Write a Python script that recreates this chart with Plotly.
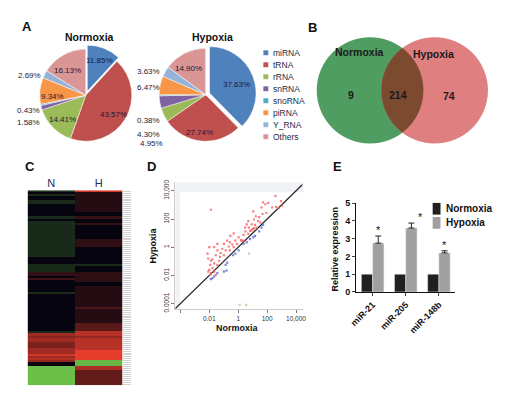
import numpy as np
import plotly.graph_objects as go

W, H = 513, 399
def X(p): return p / W
def Y(p): return 1 - p / H

FONT = "Arial, Liberation Sans, sans-serif"

# ---------------- Panel A: pie data ----------------
rna_types = ["miRNA", "tRNA", "rRNA", "snRNA", "snoRNA", "piRNA", "Y_RNA", "Others"]
rna_colors = ["#4F81BD", "#C0504D", "#9BBB59", "#8064A2", "#4BACC6", "#F79646", "#95B3D7", "#D99694"]
normoxia_pct = [11.85, 43.57, 14.41, 1.58, 0.43, 9.34, 2.69, 16.13]
hypoxia_pct = [37.63, 27.74, 4.95, 4.30, 0.38, 6.47, 3.63, 14.90]

# ---------------- Panel B: venn counts ----------------
venn_labels = ["Normoxia", "Hypoxia"]
venn_counts = [9, 214, 74]   # only normoxia, shared, only hypoxia

# ---------------- Panel C: heatmap ----------------
heat_cols = ["N", "H"]
heat_N = [
    -0.25, 0, -0.2, 0, 0, -0.2, -0.2, 0, 0, 0,
    0, 0, 0, -0.2, -0.2, 0, -0.2, -0.2, -0.2, -0.2,
    -0.2, -0.2, -0.2, -0.2, -0.2, -0.2, -0.2, -0.2, -0.2, -0.2,
    -0.2, -0.2, -0.2, -0.2, 0, 0, 0, 0, -0.2, -0.2,
    -0.2, -0.2, 0.2, 0.2, 0, 0.25, 0, 0, 0, 0,
    0, 0, -0.2, 0, 0, 0, 0, 0, 0, 0,
    0, 0, 0, 0, 0, 0, 0, 0, 0, 0,
    0, 0, -0.2, 0.65, 0.65, 0.55, 0.65, 0.65, 0.5, 0.5,
    0.5, 0.65, 0.65, 0.65, 0.85, 0.65, 0.75, 0.6, 0, 0,
    -1, -1, -1, -1, -1, -1, -1, -1, -1, -1,
]
heat_H = [
    0.85, 0.13, 0.13, 0.13, 0.13, 0.13, 0.13, 0.13, 0.13, 0.13,
    0.13, 0, 0, 0.2, 0.2, 0, 0, 0.2, 0, 0,
    0, 0, 0, 0, 0, 0.18, 0.18, 0.18, 0.18, 0,
    0, 0, 0, 0, 0, 0, 0, 0, -0.2, 0,
    0, 0, 0.16, 0.16, 0.16, 0.16, 0.16, 0, 0, 0.13,
    0.13, 0.13, 0.13, 0.13, 0.13, 0.13, 0.13, 0.13, 0.13, 0.13,
    0.3, 0.13, 0.13, 0.13, 0.13, 0.13, 0.13, 0.13, 0.35, 0.35,
    0.35, 0.35, 0.75, 0.75, 0.75, 0.6, 0.75, 0.75, 0.75, 0.75,
    0.75, 0.75, 0.95, 0.95, 0.95, 0.95, 0.95, -0.95, -0.95, -0.95,
    0.7, 0.7, 0.4, 0.4, 0.4, 0.4, 0.4, 0.4, 0.4, 0.4,
]

# ---------------- Panel D: scatter (log10 values) ----------------
red_log_norm = [-1.89, 2.58, 2.96, 1.72, 1.88, 2.08, 2.35, 2.62, 2.80, 3.03, 1.61, 1.22, 1.09, 1.38,
                0.93, 1.16, 1.54, 0.59, 0.73, 1.00, 1.27, 0.82, 0.50, 1.09, 0.37, 0.70, 0.93, -0.31,
                0.03, 0.19, -0.20, -0.54, -0.58, -0.08, -0.40, -0.76, 0.37, 0.25, -0.31, -0.65, -0.99,
                -1.10, -0.87, -1.21, -0.58, -1.44, -1.55, -1.26, -0.99, -1.66, -2.00, -1.44, -1.78,
                -1.89, -2.07, -1.94, -1.66, -1.78, -1.44, -2.00, -1.89, -1.66, -1.55, -2.12, -1.33,
                -1.94, -2.07, 0.70, 0.48, 1.45, 1.68, 1.95, 1.04]
red_log_hyp = [2.66, 3.65, 3.28, 3.19, 3.05, 3.15, 2.82, 2.87, 2.78, 2.96, 2.82, 2.20, 1.97, 1.85,
               1.62, 1.58, 1.74, 1.62, 1.39, 1.28, 1.39, 1.16, 1.12, 1.35, 0.88, 0.95, 1.20, 0.98,
               0.70, 0.51, 0.47, 0.81, 0.35, 0.24, 0.19, 0.47, 0.47, 0.45, 0.01, 0.05, 0.24,
               -0.11, -0.22, -0.41, -0.22, -0.22, -0.57, -0.69, -0.57, 0.01, 0.01, 0.24, -0.87,
               -0.96, -0.80, -1.26, -1.15, -1.49, -1.26, -1.61, -1.84, -1.73, -1.96, -0.45, -0.96,
               -1.96, -1.73, 1.85, 1.39, 2.13, 2.36, 2.43, 2.55]
blue_log_norm = [1.61, 1.45, 1.04, 0.82, 0.59, 0.37, 0.03, -0.20, -0.36, -0.76, -0.87, -0.99, -0.81,
                 -1.66, -1.78, -1.44, -1.89, 1.16, 1.72]
blue_log_hyp = [1.39, 1.12, 0.70, 0.58, 0.35, 0.24, -0.22, -0.45, -0.57, -1.10, -1.26, -1.73, -1.66,
                -2.07, -2.19, -1.84, -2.26, 0.81, 1.58]
green_log_norm = [0.75, 0.10, 0.55]
green_log_hyp = [-0.45, -4.10, -4.10]
diag_log = [-4.35, 4.45]

# ---------------- Panel E: bars ----------------
mirnas = ["miR-21", "miR-205", "miR-148b"]
rel_normoxia = [1, 1, 1]
rel_hypoxia = [2.75, 3.6, 2.2]
rel_hypoxia_err = [0.4, 0.28, 0.12]

fig = go.Figure()

# ---- pies ----
pie_common = dict(labels=rna_types, sort=False, direction="clockwise", rotation=0,
                  textinfo="none", hoverinfo="label+percent",
                  marker=dict(colors=rna_colors, line=dict(color="white", width=0.5)),
                  pull=[0.09, 0, 0, 0, 0, 0, 0, 0], showlegend=False)
fig.add_trace(go.Pie(values=normoxia_pct, domain=dict(x=[X(29), X(132)], y=[Y(144), Y(41)]),
                     name="Normoxia", **pie_common))
fig.add_trace(go.Pie(values=hypoxia_pct, domain=dict(x=[X(151), X(255)], y=[Y(144), Y(40)]),
                     name="Hypoxia", **pie_common))

# ---- heatmap ----
zmat = [[n, h] for n, h in zip(heat_N, heat_H)]
fig.add_trace(go.Heatmap(z=zmat, x=heat_cols, y=list(range(len(heat_N))), zmin=-1, zmax=1,
                         colorscale=[[0, "#6cc04a"], [0.5, "#06040e"], [1, "#f2402e"]],
                         showscale=False, xaxis="x", yaxis="y"))

# ---- scatter ----
def p10(a): return [10 ** v for v in a]
fig.add_trace(go.Scatter(x=p10(diag_log), y=p10(diag_log), mode="lines",
                         line=dict(color="#222222", width=1.2), xaxis="x2", yaxis="y2"))
fig.add_trace(go.Scatter(x=p10(red_log_norm), y=p10(red_log_hyp), mode="markers",
                         marker=dict(color="rgba(245,95,95,0.8)", size=2.2, symbol="square"),
                         xaxis="x2", yaxis="y2"))
fig.add_trace(go.Scatter(x=p10(blue_log_norm), y=p10(blue_log_hyp), mode="markers",
                         marker=dict(color="rgba(90,105,205,0.8)", size=2.2, symbol="square"),
                         xaxis="x2", yaxis="y2"))
fig.add_trace(go.Scatter(x=p10(green_log_norm), y=p10(green_log_hyp), mode="markers",
                         marker=dict(color="rgba(160,205,130,0.7)", size=2.2, symbol="square"),
                         xaxis="x2", yaxis="y2"))

# ---- bars ----
fig.add_trace(go.Bar(x=mirnas, y=rel_normoxia, name="Normoxia", marker=dict(color="#231f20"),
                     xaxis="x3", yaxis="y3"))
fig.add_trace(go.Bar(x=mirnas, y=rel_hypoxia, name="Hypoxia", marker=dict(color="#a0a0a0"),
                     error_y=dict(type="data", symmetric=False, array=rel_hypoxia_err,
                                  arrayminus=[0, 0, 0], color="#222", thickness=1, width=3),
                     xaxis="x3", yaxis="y3"))

# ---- axes ----
fig.update_layout(
    xaxis=dict(domain=[X(21), X(118)], anchor="y", side="top", ticks="", showgrid=False,
               zeroline=False, tickfont=dict(size=11, color="#1f2f5f"), fixedrange=True),
    yaxis=dict(domain=[Y(390), Y(190)], anchor="x", range=[len(heat_N) - 0.5, -0.5], side="right",
               ticks="outside", ticklen=8, tickcolor="#d2d2d2", tickwidth=1,
               tickvals=list(range(len(heat_N))), showticklabels=False, showgrid=False, zeroline=False),
    xaxis2=dict(domain=[X(172), X(302)], anchor="y2", type="log", range=[-4.35, 4.45],
                tickvals=[1e-4, 1e-2, 1, 100, 1e4], ticktext=["", "0.01", "1", "100", "10,000"],
                ticks="outside", ticklen=3, tickcolor="#777", tickfont=dict(size=6.5, color="#333"),
                showgrid=False, zeroline=False, showline=True, linecolor="#cccccc", linewidth=1),
    yaxis2=dict(domain=[Y(312), Y(182)], anchor="x2", type="log", range=[-4.4, 4.6],
                tickvals=[1e-4, 1e-2, 1, 100, 1e4], ticktext=["0.0001", "0.01", "1", "100", "10,000"],
                tickangle=-90, ticks="outside", ticklen=3, tickcolor="#777",
                tickfont=dict(size=6.5, color="#333"),
                showgrid=False, zeroline=False, showline=True, linecolor="#cccccc", linewidth=1),
    xaxis3=dict(domain=[X(356.7), X(458.3)], anchor="y3", showline=True, linecolor="#111", linewidth=1,
                ticks="outside", ticklen=3, tickangle=-45,
                tickfont=dict(size=9, weight="bold", color="#111"), showgrid=False, zeroline=False),
    yaxis3=dict(domain=[Y(294.3), Y(203.3)], anchor="x3", range=[0, 5], dtick=1, showline=True,
                linecolor="#111", linewidth=1, ticks="outside", ticklen=3,
                tickfont=dict(size=9, weight="bold", color="#111"), showgrid=False, zeroline=False),
    barmode="group", bargap=0.32, bargroupgap=0,
)

shapes = []
annotations = []

def ann(text, px, py, size=9, bold=False, color="#111", xanchor="center", yanchor="middle", angle=0):
    annotations.append(dict(text=text, x=X(px), y=Y(py), xref="paper", yref="paper", showarrow=False,
                            xanchor=xanchor, yanchor=yanchor, textangle=angle,
                            font=dict(size=size, color=color, family=FONT,
                                      weight="bold" if bold else "normal")))

# panel letters
for letter, px, py in [("A", 20, 22), ("B", 312, 23), ("C", 23, 166), ("D", 148, 166), ("E", 338, 166)]:
    ann(letter, px, py, size=13, bold=True, color="#111")

# pie titles
ann("Normoxia", 84, 33, size=10.5, bold=True)
ann("Hypoxia", 210, 33, size=10.5, bold=True)

# pie labels (values from the data arrays)
lab_col = "#1a1a3a"
norm_pos = [(95, 57), (109, 112), (57, 117), (22, 121), (22, 108), (47, 94), (23, 72), (62, 67)]
hyp_pos = [(235, 82), (197, 131), (148, 142), (145, 133), (145, 118), (145, 85), (145, 68), (185, 65)]
for v, (px, py) in zip(normoxia_pct, norm_pos):
    ann(f"{v:.2f}%", px, py, size=8, color=lab_col)
for v, (px, py) in zip(hypoxia_pct, hyp_pos):
    ann(f"{v:.2f}%", px, py, size=8, color=lab_col)

# pie legend
for i, (name, col) in enumerate(zip(rna_types, rna_colors)):
    cy = 49 + i * 12.3
    shapes.append(dict(type="rect", xref="paper", yref="paper", x0=X(262), x1=X(267),
                       y0=Y(cy + 2.5), y1=Y(cy - 2.5), fillcolor=col, line=dict(width=0)))
    ann(name, 270, cy, size=8.5, color="#1b2a4a", xanchor="left")

# venn
r = 54.5
c1 = (371, 87.5)
c2 = (437, 87.5)
def circle_shape(c, col):
    return dict(type="circle", xref="paper", yref="paper", x0=X(c[0] - r), x1=X(c[0] + r),
                y0=Y(c[1] + r), y1=Y(c[1] - r), fillcolor=col, line=dict(width=0), layer="below")
shapes.append(circle_shape(c1, "#4f9d60"))
shapes.append(circle_shape(c2, "#e07f7f"))
half = (c2[0] - c1[0]) / 2
th = np.arccos(half / r)
a1 = np.linspace(-th, th, 40)
a2 = np.linspace(np.pi - th, np.pi + th, 40)
pts = [(c1[0] + r * np.cos(a), c1[1] + r * np.sin(a)) for a in a1]
pts += [(c2[0] + r * np.cos(a), c2[1] + r * np.sin(a)) for a in a2]
path = "M " + " L ".join(f"{X(px):.5f},{Y(py):.5f}" for px, py in pts) + " Z"
shapes.append(dict(type="path", xref="paper", yref="paper", path=path, fillcolor="#7c4a2f",
                   line=dict(width=0), layer="below"))
ann(venn_labels[0], 360, 48, size=10.5, bold=True, color="#1a1a1a")
ann(venn_labels[1], 436, 50, size=10.5, bold=True, color="#1a1a1a")
ann(str(venn_counts[0]), 352, 92, size=10.5, bold=True, color="#1a1a1a")
ann(str(venn_counts[1]), 400, 92, size=10.5, bold=True, color="#1a1a1a")
ann(str(venn_counts[2]), 452, 93, size=10.5, bold=True, color="#1a1a1a")

# scatter panel background
shapes.append(dict(type="rect", xref="paper", yref="paper", x0=X(172), x1=X(303), y0=Y(313), y1=Y(182),
                   fillcolor="#f0f2f5", line=dict(width=0), layer="below"))
shapes.append(dict(type="rect", xref="paper", yref="paper", x0=X(177), x1=X(303), y0=Y(313), y1=Y(192),
                   fillcolor="#ffffff", line=dict(width=0), layer="below"))
ann("Normoxia", 236, 331, size=9, bold=True)
ann("Hypoxia", 149, 247, size=9, bold=True, angle=-90)

# bars: title, asterisks, legend
ann("Relative expression", 335, 250, size=9, bold=True, angle=-90)
star_shift = [0, 9, 0]
for cat, v, e, sh in zip(mirnas, rel_hypoxia, rel_hypoxia_err, star_shift):
    annotations.append(dict(text="*", x=cat, y=v + e, xref="x3", yref="y3", showarrow=False,
                            xanchor="center", yanchor="bottom", xshift=6 + sh, yshift=-2,
                            font=dict(size=11, color="#111", family=FONT)))
for i, (name, col) in enumerate(zip(["Normoxia", "Hypoxia"], ["#231f20", "#a0a0a0"])):
    cy = 209 + i * 14.5
    shapes.append(dict(type="rect", xref="paper", yref="paper", x0=X(435), x1=X(443),
                       y0=Y(cy + 6), y1=Y(cy - 6), fillcolor=col, line=dict(width=0)))
    ann(name, 447, cy, size=10, bold=True, xanchor="left")

fig.update_layout(width=W, height=H, margin=dict(l=0, r=0, t=0, b=0), paper_bgcolor="white",
                  plot_bgcolor="rgba(0,0,0,0)", showlegend=False, font=dict(family=FONT),
                  shapes=shapes, annotations=annotations)

fig.write_html("out.html", config={"displayModeBar": False},
               post_script="document.body.style.margin='0';document.body.style.overflow='hidden';")
